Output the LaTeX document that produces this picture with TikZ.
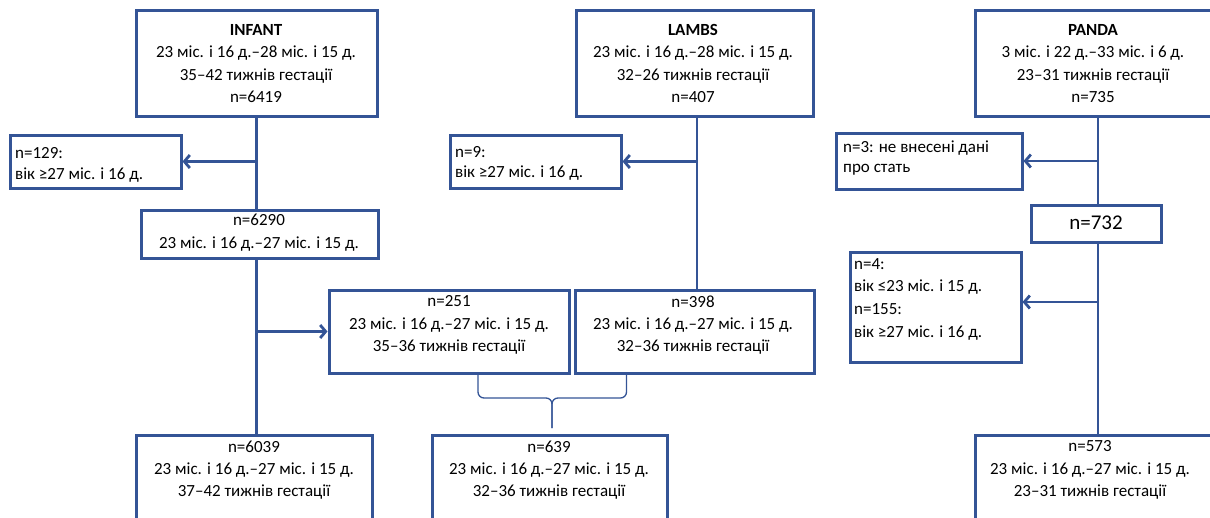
\documentclass[tikz,border=0pt]{standalone}
\usepackage{fontspec}
\setmainfont{Carlito}
\usetikzlibrary{arrows.meta}
\definecolor{bl}{RGB}{52,84,150}
\tikzset{
  box/.style={draw=bl, line width=3pt, inner sep=0pt, fill=white},
  txt/.style={inner sep=0pt, align=center, font=\fontsize{17}{22.3}\selectfont},
  ltxt/.style={inner sep=0pt, align=left, anchor=west, font=\fontsize{17}{20.5}\selectfont},
  conn/.style={draw=bl, line width=2.8pt},
  arr/.style={conn, -{Straight Barb[length=5.5pt,width=13pt]}},
  brace/.style={draw=bl, line width=1.3pt, rounded corners=6pt}
}
\begin{document}
\begin{tikzpicture}[x=1pt,y=-1pt]
\useasboundingbox (0,0) rectangle (1210,517);
% boxes
\node[box, minimum width=241pt, minimum height=106pt] (infant) at (256.5,63) {};
\node[box, minimum width=237pt, minimum height=106pt] (lambs) at (694.5,63) {};
\node[box, minimum width=240pt, minimum height=106pt] (panda) at (1095,63) {};
\node[box, minimum width=171pt, minimum height=53pt] (ex129) at (95.5,161.5) {};
\node[box, minimum width=171pt, minimum height=53pt] (ex9) at (535.5,161.5) {};
\node[box, minimum width=186pt, minimum height=56pt] (ex3) at (929,161) {};
\node[box, minimum width=237pt, minimum height=48pt] (n6290) at (259.5,234) {};
\node[box, minimum width=130pt, minimum height=37pt] (n732) at (1096,223.5) {};
\node[box, minimum width=171pt, minimum height=110pt] (ex4) at (935.5,307) {};
\node[box, minimum width=240pt, minimum height=83pt] (n251) at (449,331.5) {};
\node[box, minimum width=239pt, minimum height=83pt] (n398) at (694.5,331.5) {};
\node[box, minimum width=236pt, minimum height=90pt] (n6039) at (254,480) {};
\node[box, minimum width=235pt, minimum height=90pt] (n639) at (549.5,480) {};
\node[box, minimum width=240pt, minimum height=90pt] (n573) at (1095,480) {};
% texts
\node[txt] (tinfant) at (256,63.5) {\textbf{INFANT}\\23 міс. і 16 д.–28 міс. і 15 д.\\35–42 тижнів гестації\\n=6419};
\node[txt] (tlambs) at (693,63.5) {\textbf{LAMBS}\\23 міс. і 16 д.–28 міс. і 15 д.\\32–26 тижнів гестації\\n=407};
\node[txt] (tpanda) at (1093,63.5) {\textbf{PANDA}\\3 міс. і 22 д.–33 міс. і 6 д.\\23–31 тижнів гестації\\n=735};
\node[ltxt] (t129) at (15,165) {n=129:\\вік ≥27 міс. і 16 д.};
\node[ltxt] (t9) at (455,163.5) {n=9:\\вік ≥27 міс. і 16 д.};
\node[ltxt] (t3) at (843,158) {n=3: не внесені дані\\про стать};
\node[txt] (t6290) at (259,232.5) {n=6290\\23 міс. і 16 д.–27 міс. і 15 д.};
\node[txt, font=\fontsize{21}{24}\selectfont] (t732) at (1096,223) {n=732};
\node[ltxt, font=\fontsize{17}{22.7}\selectfont] (t4) at (854,299) {n=4:\\вік ≤23 міс. і 15 д.\\n=155:\\вік ≥27 міс. і 16 д.};
\node[txt] (t251) at (449,325) {n=251\\23 міс. і 16 д.–27 міс. і 15 д.\\35–36 тижнів гестації};
\node[txt] (t398) at (693,325) {n=398\\23 міс. і 16 д.–27 міс. і 15 д.\\32–36 тижнів гестації};
\node[txt] (t6039) at (254,470) {n=6039\\23 міс. і 16 д.–27 міс. і 15 д.\\37–42 тижнів гестації};
\node[txt] (t639) at (549,470) {n=639\\23 міс. і 16 д.–27 міс. і 15 д.\\32–36 тижнів гестації};
\node[txt] (t573) at (1090,470) {n=573\\23 міс. і 16 д.–27 міс. і 15 д.\\23–31 тижнів гестації};
% connectors
\draw[conn] (infant.south) -- (infant.south |- n6290.north);
\draw[arr] (infant.south |- ex129.east) -- (ex129.east);
\draw[conn] (infant.south |- n6290.south) -- (infant.south |- n6039.north);
\draw[arr] (infant.south |- n251.west) -- (n251.west);
\draw[conn] ([xshift=2.5pt]lambs.south) -- ([xshift=2.5pt]lambs.south |- n398.north);
\draw[arr] ([xshift=2.5pt]lambs.south |- ex9.east) -- (ex9.east);
\draw[conn] ([xshift=3pt]panda.south) -- ([xshift=3pt]panda.south |- n732.north);
\draw[arr] ([xshift=3pt]panda.south |- ex3.east) -- (ex3.east);
\draw[conn] ([xshift=2pt]n732.south) -- ([xshift=2pt]n732.south |- n573.north);
\draw[arr] ([xshift=2pt,yshift=5pt]n732.south |- ex4.east) -- ([yshift=5pt]ex4.east);
% brace
\coordinate (bl) at ([xshift=29pt]n251.south);
\coordinate (br) at ([xshift=-68pt]n398.south);
\coordinate (bm) at (552,398);
\coordinate (btip) at (552,428);
\draw[brace] (bl) -- (bl |- bm) -- (bm) -- (btip);
\draw[brace] (br) -- (br |- bm) -- (bm) -- (btip);
\end{tikzpicture}
\end{document}
